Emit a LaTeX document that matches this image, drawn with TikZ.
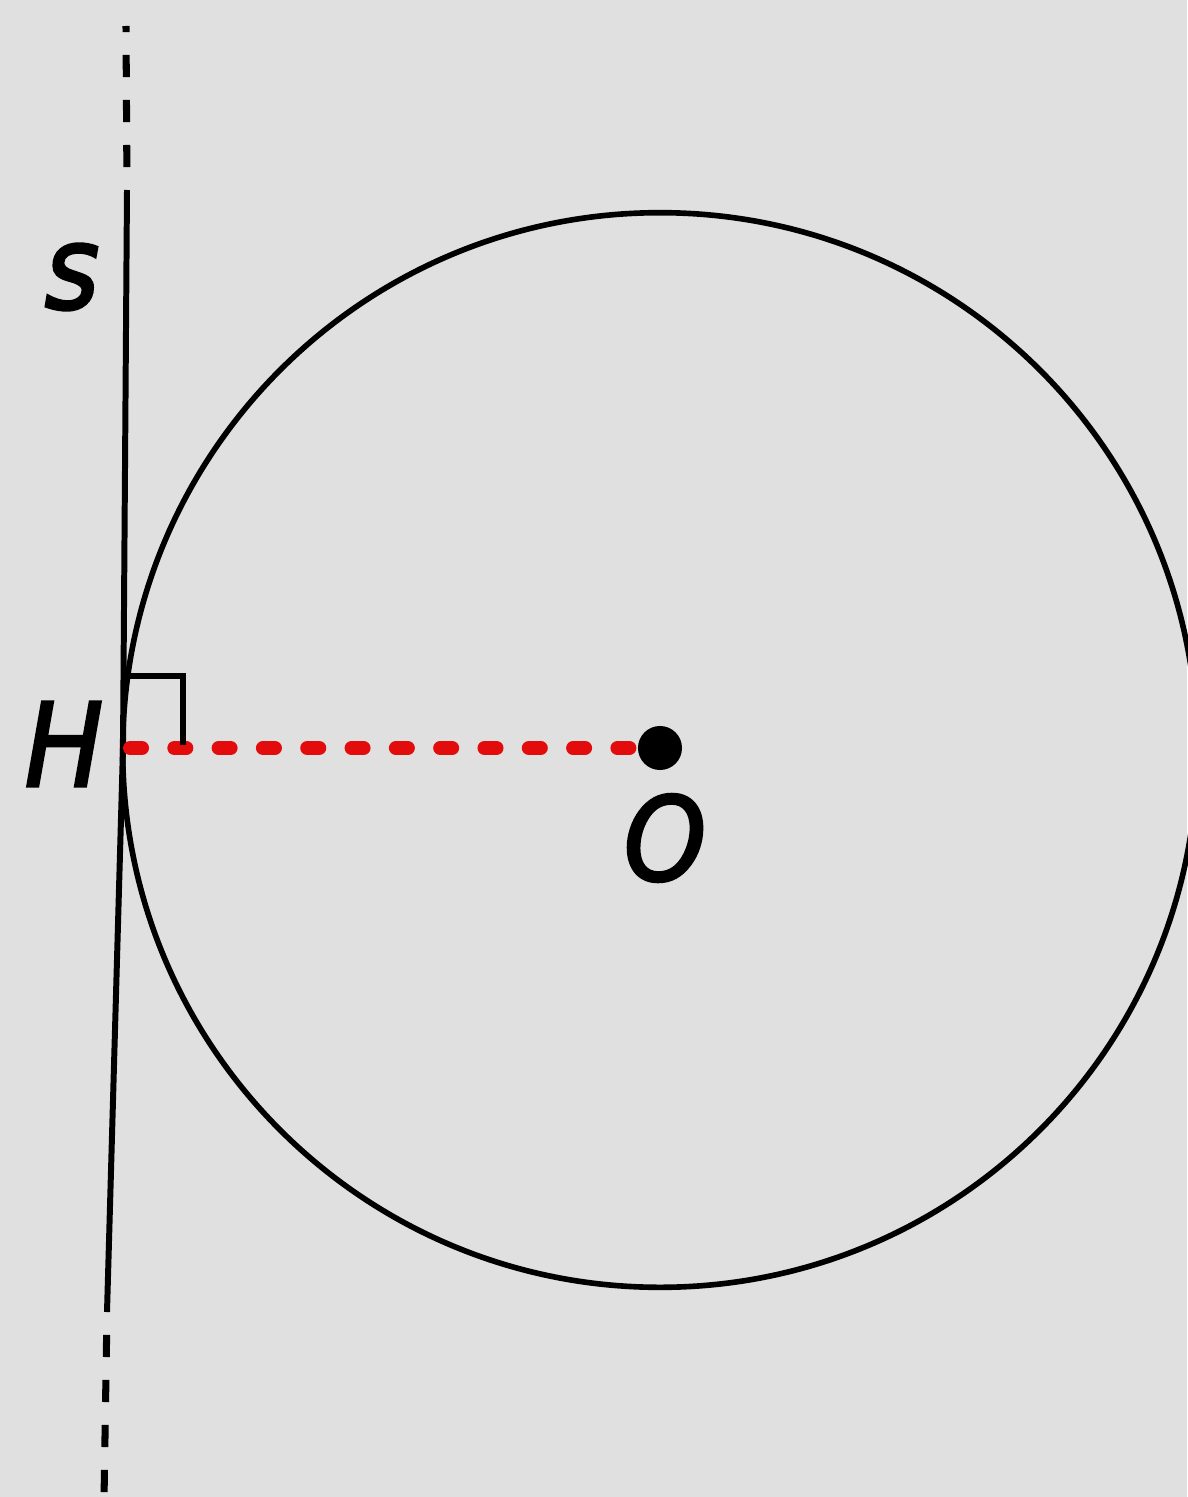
\documentclass[tikz,border=0pt]{standalone}
\usepackage{fontspec}
\setmainfont{DejaVu Sans}
\newfontfamily\lblfont{DejaVu Sans Condensed Oblique}[FakeBold=2.4]
\definecolor{paper}{RGB}{224,224,224}
\definecolor{radiusred}{RGB}{226,12,12}
\usetikzlibrary{positioning}
\tikzset{
  tangent/.style={line width=1.7pt},
  tangentend/.style={line width=2pt, dash pattern=on 6.3pt off 6.5pt, dash phase=6.3pt},
  ptlabel/.style={inner sep=0pt, font=\lblfont\fontsize{33}{33}\selectfont},
}

\begin{document}
\begin{tikzpicture}[x=0.01cm, y=-0.01cm]
  \fill[paper] (0,0) rectangle (1187,1497);
  \useasboundingbox (0,0) rectangle (1187,1497);

  \coordinate (sTop) at (126,26);
  \coordinate (sA) at (127,190);
  \coordinate (H) at (123,748);
  \coordinate (sB) at (107,1312);
  \coordinate (sBot) at (104,1500);

  \draw[line width=1.6pt] (660,750) circle (5.37cm);

  \draw[tangent] (sA) -- (H) -- (sB);
  \draw[tangentend] (sA) -- (sTop);
  \draw[tangentend] (sB) -- (sBot);

  \node[circle, fill=black, inner sep=0pt, minimum size=0.44cm] (O) at (660,748) {};
  \draw[radiusred, line width=4pt, line cap=round, dash pattern=on 3.4pt off 9.2pt, shorten >=2pt]
    ([xshift=2pt]H) -- (O);
  \draw[line width=1.6pt] (126,676) -| (183,745);

  \node[ptlabel] (slbl) at (72,277) {s};
  \node[ptlabel] (Hlbl) at (64,744) {H};
  \node[ptlabel] (Olbl) at (665,838) {O};
\end{tikzpicture}
\end{document}
